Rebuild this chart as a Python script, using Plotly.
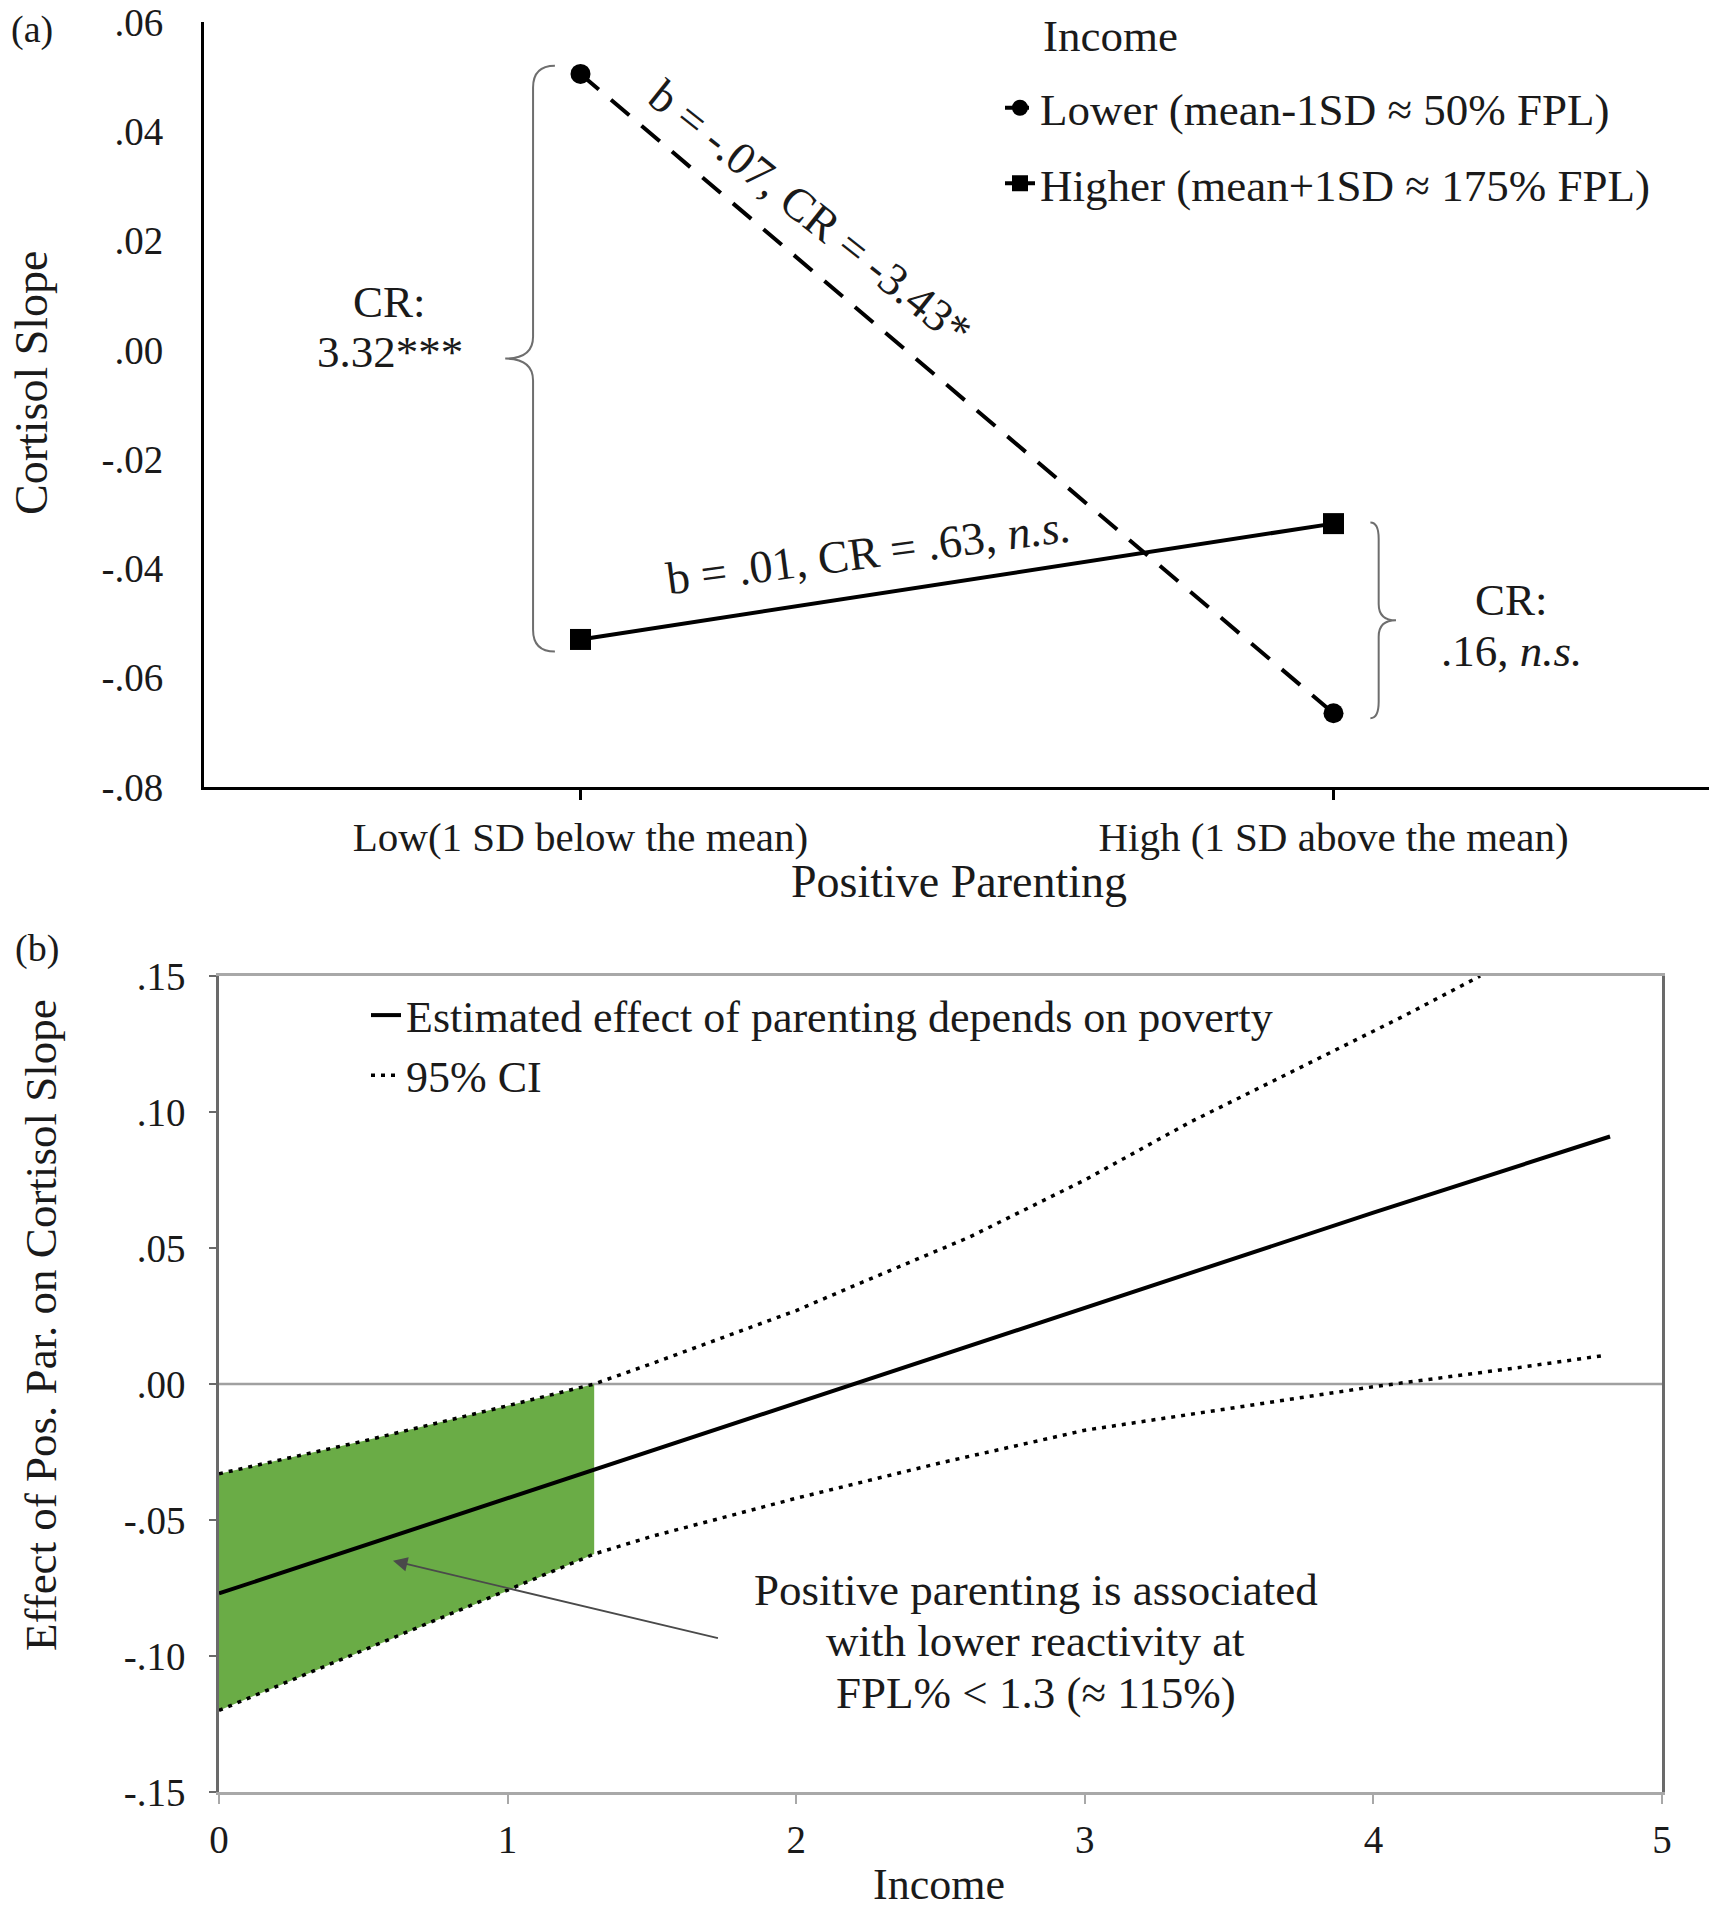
import plotly.graph_objects as go

# ---------------- Panel (a) data ----------------
parenting_levels = ["Low(1 SD below the mean)", "High (1 SD above the mean)"]
parenting_pos = [0, 1]
lower_income = [0.0505, -0.0665]     # mean-1SD ≈ 50% FPL
higher_income = [-0.0530, -0.0318]   # mean+1SD ≈ 175% FPL
a_yticks = [0.06, 0.04, 0.02, 0.00, -0.02, -0.04, -0.06, -0.08]
a_yticklabels = [".06", ".04", ".02", ".00", "-.02", "-.04", "-.06", "-.08"]

# ---------------- Panel (b) data ----------------
est_income = [0, 1, 2, 3, 4, 4.82]
est_effect = [-0.077, -0.042, -0.007, 0.028, 0.063, 0.091]
ci_upper_income = [0, 0.5, 1.0, 1.3, 1.5, 2.0, 2.22, 2.6, 3.0, 3.36, 3.74, 4.1, 4.37]
ci_upper = [-0.033, -0.021, -0.008, 0.0, 0.0075, 0.027, 0.037, 0.054, 0.075, 0.096, 0.116, 0.135, 0.150]
ci_lower_income = [0, 0.5, 1.0, 1.3, 1.5, 2.0, 2.5, 3.0, 3.5, 4.0, 4.5, 4.8]
ci_lower = [-0.120, -0.098, -0.076, -0.0625, -0.056, -0.042, -0.029, -0.017, -0.009, -0.001, 0.006, 0.0105]
sig_cutoff = 1.3
b_xticks = [0, 1, 2, 3, 4, 5]
b_yticks = [0.15, 0.10, 0.05, 0.00, -0.05, -0.10, -0.15]
b_yticklabels = [".15", ".10", ".05", ".00", "-.05", "-.10", "-.15"]

# page is 1717x1920; the html body has an 8px margin, so the figure is sized to fit inside
OFF = 8
W, H = 1717 - OFF, 1920 - 2 * OFF
FONT = "Liberation Serif"
TXT = "#1a1a1a"


def px(x):
    return (x - OFF) / W


def py(y):
    return 1 - (y - OFF) / H


def brace_path(x_end, x_body, x_tip, y_top, y_bot, r):
    ym = (y_top + y_bot) / 2
    return (f"M {x_end},{y_top} Q {x_body},{y_top} {x_body},{y_top - r} "
            f"L {x_body},{ym + r} Q {x_body},{ym} {x_tip},{ym} "
            f"Q {x_body},{ym} {x_body},{ym - r} "
            f"L {x_body},{y_bot + r} Q {x_body},{y_bot} {x_end},{y_bot}")


fig = go.Figure()

# ---- Panel (a) traces ----
fig.add_trace(go.Scatter(
    x=parenting_pos, y=lower_income, mode="lines+markers",
    name="Lower (mean-1SD ≈ 50% FPL)", legendgroup="a1",
    line=dict(color="black", width=4, dash="24px,16px"),
    marker=dict(symbol="circle", size=20, color="black"),
    xaxis="x", yaxis="y", legend="legend"))
fig.add_trace(go.Scatter(
    x=parenting_pos, y=higher_income, mode="lines+markers",
    name="Higher (mean+1SD ≈ 175% FPL)", legendgroup="a2",
    line=dict(color="black", width=4),
    marker=dict(symbol="square", size=21, color="black"),
    xaxis="x", yaxis="y", legend="legend"))

# ---- Panel (b) traces ----
fill_lo_x = [x for x in ci_lower_income if x <= sig_cutoff]
fill_lo_y = [y for x, y in zip(ci_lower_income, ci_lower) if x <= sig_cutoff]
fill_up_x = [x for x in ci_upper_income if x <= sig_cutoff]
fill_up_y = [y for x, y in zip(ci_upper_income, ci_upper) if x <= sig_cutoff]
GREEN = "#6aac46"
fig.add_trace(go.Scatter(x=fill_lo_x, y=fill_lo_y, mode="lines", line=dict(width=0, color=GREEN),
                         showlegend=False, hoverinfo="skip", xaxis="x2", yaxis="y2"))
fig.add_trace(go.Scatter(x=fill_up_x, y=fill_up_y, mode="lines", line=dict(width=0, color=GREEN),
                         fill="tonexty", fillcolor=GREEN,
                         showlegend=False, hoverinfo="skip", xaxis="x2", yaxis="y2"))

fig.add_trace(go.Scatter(x=est_income, y=est_effect, mode="lines",
                         name="Estimated effect of parenting depends on poverty",
                         legendgroup="b1",
                         line=dict(color="black", width=4),
                         xaxis="x2", yaxis="y2", legend="legend2"))
fig.add_trace(go.Scatter(x=ci_upper_income, y=ci_upper, mode="lines", name="95% CI",
                         legendgroup="b2",
                         line=dict(color="black", width=3.5, dash="4px,6px"),
                         xaxis="x2", yaxis="y2", legend="legend2"))
fig.add_trace(go.Scatter(x=ci_lower_income, y=ci_lower, mode="lines", name="95% CI lower",
                         showlegend=False,
                         line=dict(color="black", width=3.5, dash="4px,6px"),
                         xaxis="x2", yaxis="y2"))

tickfont = dict(family=FONT, size=39, color=TXT)

fig.update_layout(
    width=W, height=H, margin=dict(l=0, r=0, t=0, b=0, autoexpand=False),
    paper_bgcolor="white", plot_bgcolor="white",
    font=dict(family=FONT, color=TXT),
    xaxis=dict(domain=[px(204), px(1710)], range=[-0.5, 1.5],
               tickvals=parenting_pos + [1.5], ticktext=parenting_levels + [""],
               showline=True, linecolor="black", linewidth=3,
               ticks="outside", ticklen=10, tickwidth=2.5, tickcolor="black",
               showgrid=False, zeroline=False, tickfont=dict(family=FONT, size=41, color=TXT),
               ticklabelstandoff=2, anchor="y", automargin=False, ticklabeloverflow="allow"),
    yaxis=dict(domain=[py(787), py(22)], range=[-0.08, 0.06],
               tickvals=a_yticks, ticktext=a_yticklabels,
               showline=True, linecolor="black", linewidth=3, ticks="",
               showgrid=False, zeroline=False, tickfont=tickfont,
               ticklabelstandoff=30, anchor="x", automargin=False, ticklabeloverflow="allow"),
    xaxis2=dict(domain=[px(219), px(1662)], range=[0, 5],
                tickvals=b_xticks, ticktext=[str(v) for v in b_xticks],
                showline=True, linecolor="#a8a8a8", linewidth=2.5, mirror=True,
                ticks="outside", ticklen=9, tickwidth=2, tickcolor="#a8a8a8",
                showgrid=False, zeroline=False, tickfont=tickfont,
                ticklabelstandoff=2, anchor="y2", automargin=False, ticklabeloverflow="allow"),
    yaxis2=dict(domain=[py(1792), py(976)], range=[-0.15, 0.15],
                tickvals=b_yticks, ticktext=b_yticklabels,
                showline=True, linecolor="#6a6a6a", linewidth=2.5, mirror=True,
                ticks="outside", ticklen=7, tickwidth=2, tickcolor="#6a6a6a",
                showgrid=False, zeroline=False, tickfont=tickfont,
                ticklabelstandoff=16, anchor="x2", automargin=False, ticklabeloverflow="allow"),
    legend=dict(x=px(1000), y=py(72), xanchor="left", yanchor="top",
                font=dict(family=FONT, size=45, color=TXT),
                bgcolor="rgba(0,0,0,0)", traceorder="grouped", tracegroupgap=14,
                itemwidth=30),
    legend2=dict(x=px(366), y=py(980), xanchor="left", yanchor="top",
                 font=dict(family=FONT, size=44, color=TXT),
                 bgcolor="rgba(0,0,0,0)", traceorder="grouped", tracegroupgap=0,
                 itemwidth=30),
    showlegend=True,
)

# zero line in panel (b)
fig.add_shape(type="line", xref="x2", yref="y2", x0=0, x1=5, y0=0, y1=0,
              line=dict(color="#a0a0a0", width=2.5), layer="below")

# braces in panel (a)
fig.add_shape(type="path", xref="x", yref="y",
              path=brace_path(-0.034, -0.063, -0.100, lower_income[0] + 0.0015,
                              higher_income[0] - 0.0022, 0.004),
              line=dict(color="#6e6e6e", width=2))
fig.add_shape(type="path", xref="x", yref="y",
              path=brace_path(1.049, 1.060, 1.083, higher_income[1] + 0.0002,
                              lower_income[1] - 0.0009, 0.003),
              line=dict(color="#6e6e6e", width=2))

ann = []


def add_text(text, x, y, xref, yref, size=45, angle=0, xanchor="center"):
    ann.append(dict(text=text, x=x, y=y, xref=xref, yref=yref, showarrow=False,
                    textangle=angle, xanchor=xanchor, yanchor="middle",
                    font=dict(family=FONT, size=size, color=TXT)))


# panel labels & axis titles
add_text("(a)", px(32), py(30), "paper", "paper", size=38)
add_text("(b)", px(37), py(948), "paper", "paper", size=38)
add_text("Cortisol Slope", px(32), py(383), "paper", "paper", size=46, angle=-90)
add_text("Positive Parenting", px(959), py(882), "paper", "paper", size=46)
add_text("Income", px(1041), py(36), "paper", "paper", size=45, xanchor="left")
add_text("Effect of Pos. Par. on Cortisol Slope", px(41), py(1325), "paper", "paper",
         size=45, angle=-90)
add_text("Income", px(939), py(1884), "paper", "paper", size=44)

# panel (a) annotations
add_text("b = -.07, CR = -3.43*", 0.306, 0.0250, "x", "y", size=46, angle=38.5)
add_text("b = .01, CR = .63, <i>n.s.</i>", 0.382, -0.0370, "x", "y", size=46, angle=-7.5)
add_text("CR:", -0.253, 0.0087, "x", "y")
add_text("3.32***", -0.253, -0.0004, "x", "y")
add_text("CR:", 1.237, -0.0457, "x", "y")
add_text(".16, <i>n.s.</i>", 1.237, -0.0551, "x", "y")

# panel (b) annotations
add_text("Positive parenting is associated", 2.83, -0.0757, "x2", "y2")
add_text("with lower reactivity at", 2.83, -0.0946, "x2", "y2")
add_text("FPL% &lt; 1.3 (≈ 115%)", 2.83, -0.1135, "x2", "y2")
ann.append(dict(text="", x=0.603, y=-0.065, xref="x2", yref="y2",
                ax=1.734, ay=-0.0936, axref="x2", ayref="y2",
                showarrow=True, arrowhead=2, arrowsize=1.6, arrowwidth=1.8,
                arrowcolor="#4a4a4a"))

fig.update_layout(annotations=ann)

fig.write_html("out.html")
